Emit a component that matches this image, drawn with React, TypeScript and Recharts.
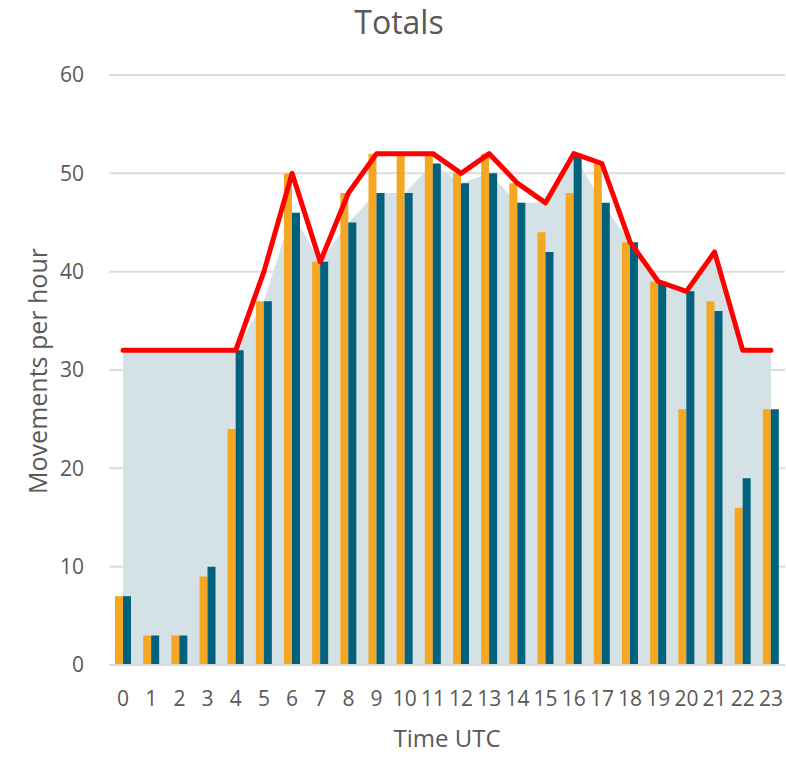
import {
	ComposedChart,
	CartesianGrid,
	XAxis,
	YAxis,
	Area,
	Bar,
	Line,
} from "recharts";

const hours = ["0", "1", "2", "3", "4", "5", "6", "7", "8", "9", "10", "11", "12", "13", "14", "15", "16", "17", "18", "19", "20", "21", "22", "23"];
const orangeValues = [7, 3, 3, 9, 24, 37, 50, 41, 48, 52, 52, 52, 50, 52, 49, 44, 48, 51, 43, 39, 26, 37, 16, 26];
const tealValues = [7, 3, 3, 10, 32, 37, 46, 41, 45, 48, 48, 51, 49, 50, 47, 42, 52, 47, 43, 39, 38, 36, 19, 26];
const areaValues = [32, 32, 32, 32, 32, 37, 46, 41, 45, 48, 48, 51, 49, 50, 47, 47, 52, 47, 43, 39, 38, 42, 32, 32];
const lineValues = [32, 32, 32, 32, 32, 40, 50, 41, 48, 52, 52, 52, 50, 52, 49, 47, 52, 51, 43, 39, 38, 42, 32, 32];
const yTicks = [0, 10, 20, 30, 40, 50, 60];

const data = hours.map((h, i) => ({
	hour: h,
	orange: orangeValues[i],
	teal: tealValues[i],
	area: areaValues[i],
	line: lineValues[i],
}));

const font = "'Open Sans', sans-serif";
const textColor = "#595959";

export default function App() {
	return (
		<div style={{ position: "absolute", left: 0, top: 0, width: 786, height: 757, fontFamily: font }}>
			<div
				style={{
					position: "absolute",
					left: 0,
					width: 798,
					top: 0,
					textAlign: "center",
					fontSize: 32,
					color: textColor,
				}}
			>
				Totals
			</div>
			<ComposedChart
				width={786}
				height={757}
				data={data}
				margin={{ top: 75, right: 1, bottom: 0, left: 0 }}
				barGap={0}
			>
				<CartesianGrid vertical={false} stroke="#dcdcdc" strokeWidth={2} />
				<XAxis
					dataKey="hour"
					height={92}
					interval={0}
					tickLine={false}
					tickSize={0}
					tickMargin={26}
					axisLine={{ stroke: "#dcdcdc", strokeWidth: 2 }}
					tick={{ fill: textColor, fontSize: 21, fontFamily: font }}
					label={{
						value: "Time UTC",
						position: "insideBottom",
						offset: 10,
						fill: textColor,
						fontSize: 24,
						fontFamily: font,
					}}
				/>
				<YAxis
					width={109}
					domain={[0, 60]}
					ticks={yTicks}
					axisLine={false}
					tickLine={false}
					tickSize={0}
					tickMargin={25}
					tick={{ fill: textColor, fontSize: 21, fontFamily: font }}
					label={{
						content: () => (
							<text
								x={37}
								y={371}
								transform="rotate(-90 37 371)"
								textAnchor="middle"
								dominantBaseline="central"
								fill={textColor}
								fontSize={25}
								fontFamily={font}
							>
								Movements per hour
							</text>
						),
					}}
				/>
				<Area
					type="linear"
					dataKey="area"
					fill="#d5e2e5"
					fillOpacity={1}
					stroke="none"
					isAnimationActive={false}
				/>
				<Bar dataKey="orange" fill="#f5a623" barSize={8} isAnimationActive={false} />
				<Bar dataKey="teal" fill="#02617d" barSize={8} isAnimationActive={false} />
				<Line
					type="linear"
					dataKey="line"
					stroke="#ff0000"
					strokeWidth={5}
					strokeLinejoin="round"
					strokeLinecap="round"
					dot={false}
					activeDot={false}
					isAnimationActive={false}
				/>
			</ComposedChart>
		</div>
	);
}
